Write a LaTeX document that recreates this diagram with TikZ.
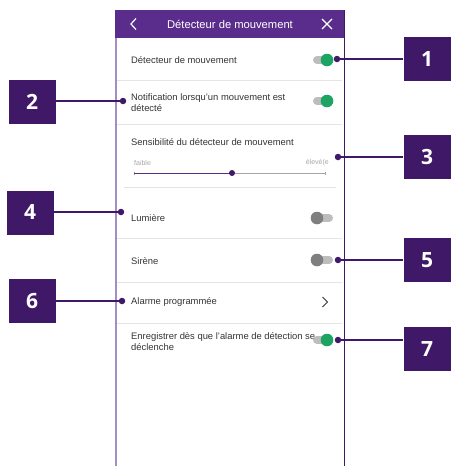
\documentclass[tikz,border=0pt]{standalone}
\usepackage{fontspec}
\setmainfont{Liberation Sans}
\newfontfamily\numfont{Open Sans}
\definecolor{darkpurple}{HTML}{3F1868}
\definecolor{barpurple}{HTML}{5A2D8C}
\definecolor{edgepurple}{HTML}{A48EC1}
\definecolor{togglegreen}{HTML}{1EA462}
\definecolor{trackgray}{HTML}{BDBDBD}
\definecolor{knobgray}{HTML}{7F7F7F}
\definecolor{linegray}{HTML}{E4E4E4}
\definecolor{txtgray}{HTML}{333333}
\tikzstyle{num}=[fill=darkpurple,text=white,minimum width=47pt,minimum height=44pt,inner sep=0pt,font=\numfont\bfseries\fontsize{21}{21}\selectfont]
\tikzstyle{dot}=[circle,fill=darkpurple,inner sep=0pt,minimum size=6.5pt]
\tikzstyle{lbl}=[anchor=west,inner sep=0pt,text=txtgray,align=left,font=\fontsize{9.4}{11}\selectfont]
\tikzstyle{sep}=[linegray,line width=0.8pt]
\tikzstyle{track}=[trackgray,line width=8pt,line cap=round]
\tikzstyle{callout}=[darkpurple,line width=1.1pt]

\begin{document}
\begin{tikzpicture}[x=1pt,y=-1pt]
\useasboundingbox (0,0) rectangle (451,466);
% phone screen
\fill[barpurple] (114.5,10) rectangle (344.5,38);
\draw[edgepurple,line width=2pt] (115.5,38) -- (115.5,466);
\draw[darkpurple,line width=0.9pt] (344,10) -- (344,466);
\node[text=white,font=\fontsize{11.2}{13}\selectfont] (title) at (230,24) {Détecteur de mouvement};
\draw[white,line width=1.2pt] (136,18.5) -- (131,24) -- (136,29.5);
\draw[white,line width=1.3pt] (322,19) -- (332,29) (322,29) -- (332,19);
% rows
\draw[sep] (117,80) -- (342,80);
\draw[sep] (117,124) -- (342,124);
\draw[sep] (124,187) -- (336,187);
\draw[sep] (117,238) -- (342,238);
\draw[sep] (117,282) -- (342,282);
\draw[sep] (117,323) -- (342,323);
\node[lbl] (r1) at (131,60) {Détecteur de mouvement};
\node[lbl] (r2) at (131,103) {Notification lorsqu'un mouvement est\\détecté};
\node[lbl] (r3) at (131,142) {Sensibilité du détecteur de mouvement};
\node[lbl,text=gray!70,font=\fontsize{7}{8}\selectfont] (low) at (134,163) {faible};
\node[anchor=east,inner sep=0pt,text=gray!70,font=\fontsize{7}{8}\selectfont] (high) at (329,163) {élevé(e};
\node[lbl] (r4) at (131,218) {Lumière};
\node[lbl] (r5) at (131,261) {Sirène};
\node[lbl] (r6) at (131,302) {Alarme programmée};
\node[lbl] (r7) at (131,342) {Enregistrer dès que l'alarme de détection se\\déclenche};
% toggles
\draw[track] (317,60) -- (327,60); \fill[togglegreen] (327,60) circle (6.3pt);
\draw[track] (317,101) -- (327,101); \fill[togglegreen] (327,101) circle (6.3pt);
\draw[track] (317,218) -- (329,218); \fill[knobgray] (317,218) circle (6.3pt);
\draw[track] (317,260) -- (329,260); \fill[knobgray] (317,260) circle (6.3pt);
\draw[track] (317,340) -- (327,340); \fill[togglegreen] (327,340) circle (6.3pt);
% slider
\draw[gray!70,line width=0.6pt] (134,173) -- (325,173);
\draw[gray!70,line width=0.6pt] (134,171.5) -- (134,174.5) (325,171.5) -- (325,174.5);
\draw[barpurple,line width=1pt] (134,173) -- (232,173);
\fill[darkpurple] (232,173) circle (3pt);
\draw[txtgray,line width=1pt] (322.5,297) -- (327.5,302) -- (322.5,307);
% callouts
\node[dot] (d1) at (337,59) {}; \node[num] (n1) at (427,59) {1};
\node[dot] (d2) at (123,101) {}; \node[num] (n2) at (32,102) {2};
\node[dot] (d3) at (338,157) {}; \node[num] (n3) at (427,157) {3};
\node[dot] (d4) at (121,212) {}; \node[num] (n4) at (30,212.5) {4};
\node[dot] (d5) at (338,260) {}; \node[num] (n5) at (427,260) {5};
\node[dot] (d6) at (122,301) {}; \node[num] (n6) at (32,301) {6};
\node[dot] (d7) at (338,340) {}; \node[num] (n7) at (427,349) {7};
\draw[callout] (d1.center) -- (d1 -| n1.west);
\draw[callout] (d2.center) -- (d2 -| n2.east);
\draw[callout] (d3.center) -- (d3 -| n3.west);
\draw[callout] (d4.center) -- (d4 -| n4.east);
\draw[callout] (d5.center) -- (d5 -| n5.west);
\draw[callout] (d6.center) -- (d6 -| n6.east);
\draw[callout] (d7.center) -- (d7 -| n7.west);
\end{tikzpicture}
\end{document}
